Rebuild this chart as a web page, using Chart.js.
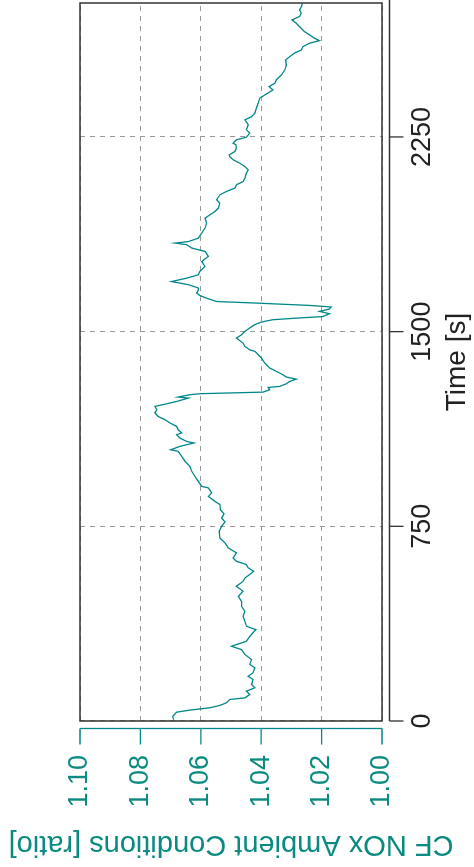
<!DOCTYPE html>
<html>
<head>
<meta charset="utf-8">
<script src="https://cdn.jsdelivr.net/npm/chart.js@4.4.1/dist/chart.umd.min.js"></script>
<style>
  html, body { margin: 0; padding: 0; background: #fff; overflow: hidden; }
  body { width: 474px; height: 867px; position: relative; }
  /* chart is drawn landscape, then turned a quarter left */
  #wrap {
    position: absolute; left: 0; top: 0;
    width: 867px; height: 474px;
    transform-origin: 0 0;
    transform: translate(0, 867px) rotate(-90deg);
  }
</style>
</head>
<body>
<div id="wrap"><canvas id="cf" width="867" height="474"></canvas></div>
<script>
// Time [s]
const timeSec = [
  5, 18, 34, 42, 51, 60, 70, 83, 89, 102, 115, 128, 141, 160, 172, 186, 205, 218, 237, 256,
  275, 288, 297, 307, 326, 352, 365, 384, 403, 423, 442, 461, 480, 500, 519, 538, 551, 564, 577, 590,
  603, 615, 628, 648, 667, 686, 705, 731, 750, 767, 782, 798, 814, 834, 846, 865, 879, 898, 904, 923,
  942, 962, 981, 1000, 1019, 1039, 1045, 1058, 1071, 1077, 1090, 1103, 1110, 1122, 1135, 1148, 1161, 1173, 1187, 1199,
  1212, 1219, 1231, 1244, 1248, 1257, 1261, 1267, 1276, 1285, 1289, 1299, 1308, 1317, 1325, 1334, 1347, 1360, 1379, 1398,
  1411, 1424, 1430, 1443, 1456, 1475, 1488, 1501, 1514, 1527, 1537, 1546, 1552, 1558, 1569, 1578, 1587, 1595, 1601, 1610,
  1616, 1629, 1639, 1649, 1659, 1668, 1681, 1693, 1706, 1719, 1732, 1751, 1770, 1790, 1809, 1822, 1835, 1841, 1847, 1860,
  1880, 1899, 1918, 1937, 1950, 1963, 1976, 1995, 2008, 2027, 2040, 2053, 2066, 2078, 2091, 2111, 2123, 2136, 2149, 2162,
  2174, 2181, 2194, 2207, 2220, 2226, 2239, 2249, 2265, 2278, 2297, 2316, 2328, 2342, 2361, 2380, 2399, 2412, 2431, 2444,
  2457, 2470, 2489, 2508, 2527, 2547, 2559, 2573, 2585, 2598, 2611, 2621, 2630, 2643, 2656, 2675, 2688, 2701, 2714, 2727,
  2739, 2752, 2765
];

// CF NOx ambient conditions [ratio]
const cfRatio = [
  1.0690, 1.0693, 1.0680, 1.0636, 1.0570, 1.0537, 1.0515, 1.0504, 1.0454, 1.0438, 1.0449, 1.0421, 1.0432, 1.0427, 1.0443, 1.0427, 1.0421, 1.0438, 1.0432, 1.0454,
  1.0465, 1.0498, 1.0476, 1.0449, 1.0438, 1.0418, 1.0449, 1.0454, 1.0460, 1.0454, 1.0465, 1.0465, 1.0476, 1.0460, 1.0482, 1.0460, 1.0454, 1.0438, 1.0425, 1.0443,
  1.0449, 1.0482, 1.0493, 1.0482, 1.0509, 1.0520, 1.0537, 1.0539, 1.0531, 1.0520, 1.0531, 1.0523, 1.0535, 1.0537, 1.0553, 1.0575, 1.0564, 1.0575, 1.0597, 1.0608,
  1.0619, 1.0630, 1.0636, 1.0652, 1.0663, 1.0675, 1.0700, 1.0669, 1.0623, 1.0647, 1.0669, 1.0680, 1.0663, 1.0675, 1.0680, 1.0702, 1.0719, 1.0741, 1.0752, 1.0746,
  1.0752, 1.0724, 1.0680, 1.0641, 1.0675, 1.0636, 1.0600, 1.0394, 1.0372, 1.0377, 1.0339, 1.0317, 1.0306, 1.0284, 1.0317, 1.0328, 1.0350, 1.0372, 1.0388, 1.0399,
  1.0410, 1.0421, 1.0438, 1.0454, 1.0460, 1.0482, 1.0465, 1.0454, 1.0438, 1.0421, 1.0399, 1.0361, 1.0284, 1.0196, 1.0174, 1.0207, 1.0174, 1.0168, 1.0240, 1.0416,
  1.0548, 1.0581, 1.0603, 1.0614, 1.0608, 1.0608, 1.0641, 1.0697, 1.0647, 1.0608, 1.0603, 1.0586, 1.0597, 1.0575, 1.0586, 1.0630, 1.0647, 1.0685, 1.0641, 1.0608,
  1.0597, 1.0586, 1.0581, 1.0586, 1.0570, 1.0553, 1.0542, 1.0537, 1.0548, 1.0537, 1.0515, 1.0487, 1.0482, 1.0460, 1.0454, 1.0449, 1.0443, 1.0454, 1.0471, 1.0493,
  1.0504, 1.0506, 1.0487, 1.0482, 1.0484, 1.0493, 1.0482, 1.0449, 1.0438, 1.0449, 1.0443, 1.0454, 1.0432, 1.0421, 1.0416, 1.0410, 1.0405, 1.0388, 1.0361, 1.0374,
  1.0355, 1.0350, 1.0333, 1.0322, 1.0317, 1.0319, 1.0306, 1.0290, 1.0267, 1.0262, 1.0240, 1.0207, 1.0223, 1.0240, 1.0257, 1.0273, 1.0284, 1.0298, 1.0273, 1.0267,
  1.0273, 1.0267, 1.0264
];

const timeTicks = [0, 750, 1500, 2250];
const cfTicks   = [1.00, 1.02, 1.04, 1.06, 1.08, 1.10];

const TEAL     = '#00878a';
const TEAL_TXT = '#0a8a80';
const FONT     = "'Liberation Sans', Arial, Helvetica, sans-serif";

// box round the plot plus the two offset axes (R style)
const frame = {
  id: 'frame',
  afterDraw(chart) {
    const { ctx, chartArea: a, scales: { x, y } } = chart;
    ctx.save();
    ctx.strokeStyle = '#333';
    ctx.lineWidth = 1.5;
    ctx.strokeRect(a.left, a.top, a.right - a.left, a.bottom - a.top);

    // time axis, below the box
    const ty = a.bottom + 7.5;
    ctx.lineWidth = 1.3;
    ctx.beginPath();
    ctx.moveTo(x.getPixelForValue(0), ty);
    ctx.lineTo(a.right + 3, ty);
    timeTicks.forEach(v => {
      const px = x.getPixelForValue(v);
      ctx.moveTo(px, ty);
      ctx.lineTo(px, ty + 14);
    });
    ctx.stroke();

    // CF axis, left of the box
    const cx = a.left - 7.5;
    ctx.strokeStyle = TEAL;
    ctx.beginPath();
    ctx.moveTo(cx, y.getPixelForValue(1.10));
    ctx.lineTo(cx, y.getPixelForValue(1.00));
    cfTicks.forEach(v => {
      const py = y.getPixelForValue(v);
      ctx.moveTo(cx, py);
      ctx.lineTo(cx - 16, py);
    });
    ctx.stroke();
    ctx.restore();
  }
};

new Chart(document.getElementById('cf'), {
  type: 'line',
  data: {
    datasets: [{
      data: timeSec.map((t, i) => ({ x: t, y: cfRatio[i] })),
      borderColor: TEAL,
      borderWidth: 1.3,
      pointRadius: 0,
      tension: 0,
    }]
  },
  options: {
    responsive: false,
    animation: false,
    devicePixelRatio: 1,
    layout: { padding: { top: 80, right: 3, left: 0, bottom: 0 } },
    plugins: { legend: { display: false }, tooltip: { enabled: false } },
    scales: {
      x: {
        type: 'linear',
        min: 0,
        max: 2766,
        afterBuildTicks: s => { s.ticks = timeTicks.map(v => ({ value: v })); },
        afterFit: s => { s.height = 92; },
        ticks: {
          maxRotation: 0,
          padding: 24,
          color: '#222',
          font: { family: FONT, size: 27 },
          callback: v => String(v),
        },
        grid: { drawTicks: false, color: '#9a9a9a', lineWidth: 1, borderDash: [5, 5] },
        border: { display: false, dash: [5, 5] },
        title: {
          display: true,
          text: 'Time [s]',
          color: '#222',
          padding: { top: 0, bottom: 0 },
          font: { family: FONT, size: 28 },
        },
      },
      y: {
        min: 1.00,
        max: 1.10,
        afterBuildTicks: s => { s.ticks = cfTicks.map(v => ({ value: v })); },
        afterFit: s => { s.width = 146; },
        ticks: {
          padding: 34,
          color: TEAL_TXT,
          font: { family: FONT, size: 27 },
          callback: v => Number(v).toFixed(2),
        },
        grid: { drawTicks: false, color: '#9a9a9a', lineWidth: 1, borderDash: [5, 5] },
        border: { display: false, dash: [5, 5] },
        title: {
          display: true,
          text: 'CF NOx Ambient Conditions [ratio]',
          color: TEAL_TXT,
          padding: { top: 6, bottom: 0 },
          font: { family: FONT, size: 29 },
        },
      }
    }
  },
  plugins: [frame]
});
</script>
</body>
</html>
